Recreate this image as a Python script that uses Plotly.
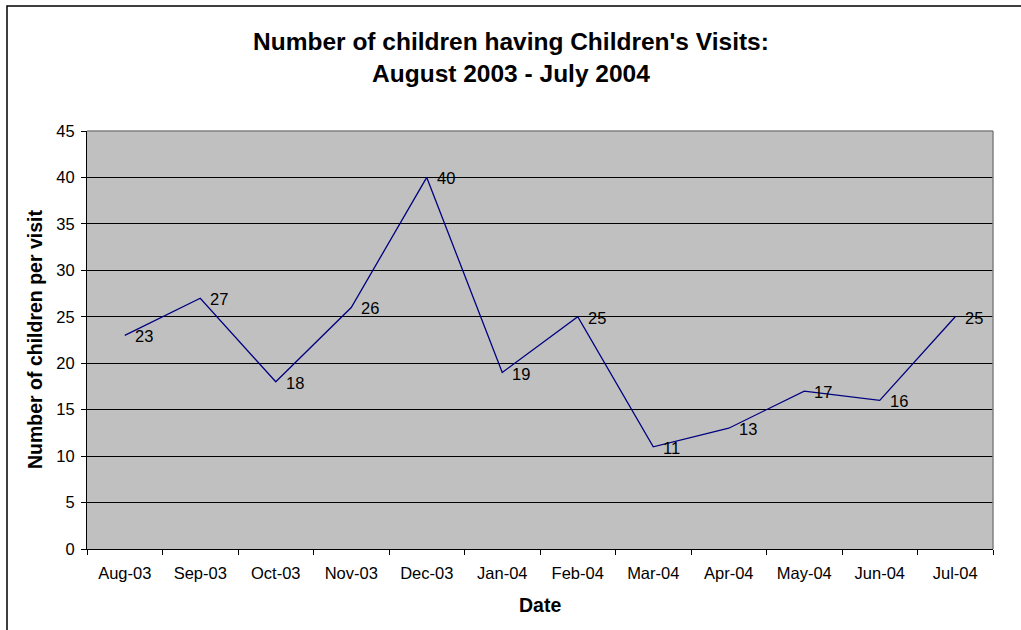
import plotly.graph_objects as go

months = ["Aug-03", "Sep-03", "Oct-03", "Nov-03", "Dec-03", "Jan-04",
          "Feb-04", "Mar-04", "Apr-04", "May-04", "Jun-04", "Jul-04"]
children = [23, 27, 18, 26, 40, 19, 25, 11, 13, 17, 16, 25]

W, H = 1021, 630
L, R, T, B = 87, 28, 131, 81
pw, ph = W - L - R, H - T - B
FONT = "Liberation Sans, Arial"

fig = go.Figure()
fig.add_trace(go.Scatter(
    x=months, y=children, mode="lines",
    line=dict(color="#000080", width=1.3),
    cliponaxis=False, showlegend=False,
))

def px_x(p):
    return (p - L) / pw

def px_y(p):
    return (H - B - p) / ph

annotations = [
    dict(text=str(v), x=m, y=v, xref="x", yref="y", xanchor="left",
         yanchor="middle", xshift=8, yshift=-1, showarrow=False,
         font=dict(family=FONT, size=16.5, color="black"))
    for m, v in zip(months, children)
]
annotations += [
    dict(text="<b>Date</b>", xref="paper", yref="paper",
         x=px_x(540), y=px_y(605), xanchor="center", yanchor="middle",
         showarrow=False, font=dict(family=FONT, size=19.5)),
    dict(text="<b>Number of children per visit</b>", xref="paper", yref="paper",
         x=px_x(35), y=px_y(340), xanchor="center", yanchor="middle", textangle=-90,
         showarrow=False, font=dict(family=FONT, size=19.5)),
    dict(text="<b>Number of children having Children's Visits:<br>August 2003 - July 2004</b>",
         xref="paper", yref="paper", x=px_x(511), y=px_y(57.5),
         xanchor="center", yanchor="middle", showarrow=False,
         font=dict(family=FONT, size=24.5, color="black")),
]

fig.update_layout(
    width=W, height=H,
    margin=dict(l=L, r=R, t=T, b=B),
    paper_bgcolor="white", plot_bgcolor="#C0C0C0",
    font=dict(family=FONT, size=16.5, color="black"),
    xaxis=dict(
        type="category", tickson="boundaries", ticks="outside", ticklen=5,
        range=[-0.5, 11.5], autorange=False,
        tickcolor="black", showline=True, linecolor="black", linewidth=1,
        showgrid=False, tickfont=dict(family=FONT, size=16.5),
        ticklabelstandoff=9, fixedrange=True,
    ),
    yaxis=dict(
        range=[0, 45], dtick=5, ticks="outside", ticklen=5, tickcolor="black",
        showline=True, linecolor="black", linewidth=1,
        showgrid=True, gridcolor="black", gridwidth=1, zeroline=False,
        tickfont=dict(family=FONT, size=16.5), ticklabelstandoff=3,
        fixedrange=True,
    ),
    shapes=[
        dict(type="rect", xref="paper", yref="paper",
             x0=px_x(7), x1=px_x(1030), y0=px_y(640), y1=px_y(6),
             line=dict(color="black", width=1.5), fillcolor="rgba(0,0,0,0)"),
        dict(type="line", xref="paper", yref="paper", x0=0, x1=1, y0=1, y1=1,
             line=dict(color="#808080", width=1.5)),
        dict(type="line", xref="paper", yref="paper", x0=1, x1=1, y0=0, y1=1,
             line=dict(color="#808080", width=1.5)),
    ],
    annotations=annotations,
)

fig.write_html("out.html")
